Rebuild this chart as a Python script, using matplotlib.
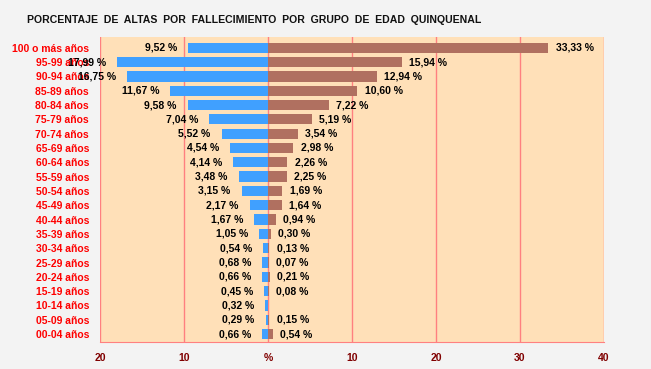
import matplotlib.pyplot as plt
import numpy as np

plt.rcParams['font.family'] = ['Liberation Sans', 'DejaVu Sans']

grupos = ['100 o más años', '95-99 años', '90-94 años', '85-89 años', '80-84 años',
          '75-79 años', '70-74 años', '65-69 años', '60-64 años', '55-59 años',
          '50-54 años', '45-49 años', '40-44 años', '35-39 años', '30-34 años',
          '25-29 años', '20-24 años', '15-19 años', '10-14 años', '05-09 años',
          '00-04 años']
izquierda = [9.52, 17.99, 16.75, 11.67, 9.58, 7.04, 5.52, 4.54, 4.14, 3.48,
             3.15, 2.17, 1.67, 1.05, 0.54, 0.68, 0.66, 0.45, 0.32, 0.29, 0.66]
derecha = [33.33, 15.94, 12.94, 10.60, 7.22, 5.19, 3.54, 2.98, 2.26, 2.25,
           1.69, 1.64, 0.94, 0.30, 0.13, 0.07, 0.21, 0.08, 0.0, 0.15, 0.54]
ticks = [-20, -10, 0, 10, 20, 30, 40]
tick_labels = ['20', '10', '%', '10', '20', '30', '40']

W, H = 651, 369
fig = plt.figure(figsize=(W / 100, H / 100), dpi=100, facecolor='#f3f3f3')
ax = fig.add_axes([100 / W, 1 - 342 / H, 504 / W, 305 / H])
ax.set_facecolor('#ffe0b8')

y = np.arange(len(grupos))
ax.set_xlim(-20, 40)
ax.set_ylim(len(grupos) - 0.45, -0.75)

for t in ticks:
    ax.axvline(t, color='#ff8080', linewidth=1, zorder=1)

ax.barh(y, [-v for v in izquierda], height=0.72, color='#40a0ff', zorder=2)
ax.barh(y, derecha, height=0.72, color='#b07060', zorder=2)

fmt = lambda v: f'{v:.2f}'.replace('.', ',') + ' %'
for i in range(len(grupos)):
    ax.text(-izquierda[i] - 1.3, y[i], fmt(izquierda[i]), ha='right', va='center',
            fontsize=7.5, fontweight='bold', color='black', zorder=3)
    if derecha[i] > 0:
        ax.text(derecha[i] + 0.9, y[i], fmt(derecha[i]), ha='left', va='center',
                fontsize=7.5, fontweight='bold', color='black', zorder=3)

ax.set_yticks(y)
ax.set_yticklabels(grupos, fontsize=7.5, fontweight='bold', color='#ff0000')
ax.set_xticks(ticks)
ax.set_xticklabels(tick_labels, fontsize=7.5, fontweight='bold', color='#800000')
ax.tick_params(axis='x', length=0, pad=8)
ax.tick_params(axis='y', length=0, pad=8)

for s in ['top', 'left', 'right']:
    ax.spines[s].set_visible(False)
ax.spines['bottom'].set_color('#ff8080')

fig.text(254 / W, 1 - 20 / H, 'PORCENTAJE  DE  ALTAS  POR  FALLECIMIENTO  POR  GRUPO  DE  EDAD  QUINQUENAL',
         ha='center', va='center', fontsize=7.6, fontweight='bold', color='#111111')

fig.savefig('out.png', dpi=100, facecolor=fig.get_facecolor())
